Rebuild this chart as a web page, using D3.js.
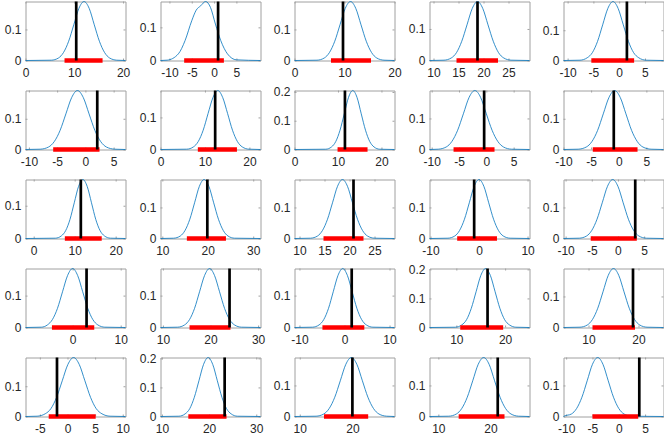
<!DOCTYPE html>
<html>
<head>
<meta charset="utf-8">
<script src="https://cdn.jsdelivr.net/npm/d3@7"></script>
<style>
body { margin: 0; background: #fff; }
svg { display: block; font-family: 'Liberation Sans', Arial, Helvetica, sans-serif; }
</style>
</head>
<body>
<div id="grid"></div>
<script>
'use strict';

// x limits of each panel (axis tight on the density curve)
var xMin = [0, -12, 0, 9.2, -10.8,
    -10.6, 0, 0, -10.4, -10,
    -2, 9.6, 9, -10.2, -10.4,
    -9.8, 9.5, -11.1, 4.5, 5,
    -7.6, 9.7, 9, 8.3, -10.5]
var xMax = [20.5, 10.4, 20, 29.2, 8.6,
    7.1, 22.5, 23, 7.9, 8.1,
    22.4, 31.6, 29, 10.4, 8.7,
    11, 30.5, 11.1, 25, 25,
    10.5, 30.9, 28, 27.5, 8.5]
// y limit = density peak
var yMax = [0.19, 0.178, 0.19, 0.187, 0.195,
    0.192, 0.184, 0.205, 0.19, 0.192,
    0.18, 0.19, 0.19, 0.19, 0.19,
    0.185, 0.185, 0.185, 0.203, 0.19,
    0.195, 0.203, 0.19, 0.19, 0.19]

var xTicks = [[0, 10, 20], [-10, -5, 0, 5], [0, 10, 20], [10, 15, 20, 25], [-10, -5, 0, 5],
    [-10, -5, 0, 5], [0, 10, 20], [0, 10, 20], [-10, -5, 0, 5], [-10, -5, 0, 5],
    [0, 10, 20], [10, 20, 30], [10, 15, 20, 25], [-10, 0, 10], [-10, -5, 0, 5],
    [0, 10], [10, 20, 30], [-10, 0, 10], [10, 20], [10, 20],
    [-5, 0, 5, 10], [10, 20, 30], [10, 20], [10, 20], [-10, -5, 0, 5]]
var yTicks = [0, 0.1, 0.2]

// observed value (black bar)
var observed = [10.4, 0.9, 9.7, 18.8, 1.5,
    2.1, 12.3, 11.6, -0.4, -0.9,
    11.5, 19.9, 20.8, -1, 3.3,
    2.9, 24, 1.6, 16.4, 18.9,
    -1.9, 23.3, 20, 21.4, 3.9]
// interval (red bar)
var intervalLow = [8.0, -6.7, 7.3, 14.6, -5.4,
    -5.7, 8.4, 9.9, -6.0, -4.7,
    7.6, 15.4, 14.8, -4.5, -5.2,
    -4.3, 15.6, -4.9, 10.8, 10.8,
    -3.4, 15.6, 14.6, 13.9, -5]
var intervalHigh = [15.8, 2.2, 15.3, 22.9, 2.9,
    2.5, 17.2, 16.8, 1.5, 3.4,
    16.6, 24, 22.8, 3.7, 3.6,
    4.5, 24.2, 4.4, 19.6, 19.3,
    5.1, 23.7, 23, 22.7, 3.7]

// density curves, [x, density]
var density = [
    [[0,0],[5.3,0.001],[6.75,0.008],[7.8,0.026],[8.85,0.062],[9.9,0.115],[10.95,0.168],[12,0.19],[13.05,0.168],[14.1,0.115],[15.15,0.062],[16.2,0.026],[17.25,0.008],[18.7,0.001],[20.5,0]],
    [[-12,0],[-10.5,0.001],[-8,0.02],[-6.5,0.06],[-5,0.12],[-4,0.152],[-3,0.165],[-1.9,0.178],[-0.8,0.16],[0.3,0.11],[1.5,0.06],[3,0.02],[5,0.002],[10.4,0]],
    [[0,0],[4.5,0.001],[5.95,0.008],[7.0,0.026],[8.05,0.062],[9.1,0.115],[10.15,0.168],[11.2,0.19],[12.25,0.168],[13.3,0.115],[14.35,0.062],[15.4,0.026],[16.45,0.008],[17.9,0.001],[20,0]],
    [[9.2,0],[12.1,0.001],[13.55,0.008],[14.6,0.025],[15.65,0.061],[16.7,0.113],[17.75,0.165],[18.8,0.187],[19.85,0.165],[20.9,0.113],[21.95,0.061],[23.0,0.025],[24.05,0.008],[25.5,0.001],[29.2,0]],
    [[-10.8,0],[-7.6,0.001],[-6.2,0.009],[-5.2,0.026],[-4.2,0.063],[-3.2,0.118],[-2.2,0.172],[-1.2,0.195],[-0.2,0.172],[0.8,0.118],[1.8,0.063],[2.8,0.026],[3.8,0.009],[5.2,0.001],[8.6,0]],

    [[-10.6,0],[-8.0,0.001],[-6.53,0.008],[-5.5,0.026],[-4.48,0.062],[-3.45,0.116],[-2.43,0.169],[-1.4,0.192],[-0.37,0.169],[0.65,0.116],[1.68,0.062],[2.7,0.026],[3.73,0.008],[5.2,0.001],[7.1,0]],
    [[0,0],[5.9,0.001],[7.4,0.008],[8.5,0.025],[9.6,0.06],[10.7,0.112],[11.8,0.162],[12.9,0.184],[14.0,0.162],[15.1,0.112],[16.2,0.06],[17.3,0.025],[18.4,0.008],[19.9,0.001],[22.5,0]],
    [[0,0],[7.2,0.001],[8.52,0.009],[9.5,0.028],[10.47,0.067],[11.45,0.124],[12.42,0.181],[13.4,0.205],[14.38,0.181],[15.35,0.124],[16.33,0.067],[17.3,0.028],[18.28,0.009],[19.6,0.001],[23,0]],
    [[-10.4,0],[-8.8,0.001],[-7.35,0.008],[-6.3,0.026],[-5.25,0.062],[-4.2,0.115],[-3.15,0.168],[-2.1,0.19],[-1.05,0.168],[0,0.115],[1.05,0.062],[2.1,0.026],[3.15,0.008],[4.6,0.001],[7.9,0]],
    [[-10,0],[-7.35,0.001],[-5.88,0.008],[-4.85,0.026],[-3.83,0.062],[-2.8,0.116],[-1.78,0.169],[-0.75,0.192],[0.28,0.169],[1.3,0.116],[2.33,0.062],[3.35,0.026],[4.38,0.008],[5.85,0.001],[8.1,0]],

    [[-2,0],[5.3,0.001],[6.75,0.008],[7.8,0.024],[8.85,0.058],[9.9,0.109],[10.95,0.159],[12,0.18],[13.05,0.159],[14.1,0.109],[15.15,0.058],[16.2,0.024],[17.25,0.008],[18.7,0.001],[22.4,0]],
    [[9.6,0],[12.5,0.001],[13.95,0.008],[15.0,0.026],[16.05,0.062],[17.1,0.115],[18.15,0.168],[19.2,0.19],[20.25,0.168],[21.3,0.115],[22.35,0.062],[23.4,0.026],[24.45,0.008],[25.9,0.001],[31.6,0]],
    [[9,0],[12.2,0.001],[13.6,0.008],[14.6,0.026],[15.6,0.062],[16.6,0.115],[17.6,0.168],[18.6,0.19],[19.6,0.168],[20.6,0.115],[21.6,0.062],[22.6,0.026],[23.6,0.008],[25.0,0.001],[29,0]],
    [[-10.2,0],[-6.4,0.001],[-5,0.008],[-4,0.026],[-3,0.062],[-2,0.115],[-1,0.168],[0,0.19],[1,0.168],[2,0.115],[3,0.062],[4,0.026],[5,0.008],[6.4,0.001],[10.4,0]],
    [[-10.4,0],[-7.4,0.001],[-6,0.008],[-5,0.026],[-4,0.062],[-3,0.115],[-2,0.168],[-1,0.19],[0,0.168],[1,0.115],[2,0.062],[3,0.026],[4,0.008],[5.4,0.001],[8.7,0]],

    [[-9.8,0],[-6.5,0.001],[-5.25,0.008],[-4.2,0.025],[-3.15,0.06],[-2.1,0.112],[-1.05,0.163],[0,0.185],[1.05,0.163],[2.1,0.112],[3.15,0.06],[4.2,0.025],[5.25,0.008],[6.7,0.001],[11,0]],
    [[9.5,0],[13.1,0.001],[14.55,0.008],[15.6,0.025],[16.65,0.06],[17.7,0.112],[18.75,0.163],[19.8,0.185],[20.85,0.163],[21.9,0.112],[22.95,0.06],[24.0,0.025],[25.05,0.008],[26.5,0.001],[30.5,0]],
    [[-11.1,0],[-7.1,0.001],[-5.65,0.008],[-4.6,0.025],[-3.55,0.06],[-2.5,0.112],[-1.45,0.163],[-0.4,0.185],[0.65,0.163],[1.7,0.112],[2.75,0.06],[3.8,0.025],[4.85,0.008],[6.3,0.001],[11.1,0]],
    [[4.5,0],[9.8,0.001],[11.12,0.009],[12.1,0.027],[13.07,0.066],[14.05,0.123],[15.02,0.179],[16,0.203],[16.98,0.179],[17.95,0.123],[18.93,0.066],[19.9,0.027],[20.88,0.009],[22.2,0.001],[25,0]],
    [[5,0],[8.3,0.001],[9.75,0.008],[10.8,0.026],[11.85,0.062],[12.9,0.115],[13.95,0.168],[15,0.19],[16.05,0.168],[17.1,0.115],[18.15,0.062],[19.2,0.026],[20.25,0.008],[21.7,0.001],[25,0]],

    [[-7.6,0],[-5.5,0.001],[-4.03,0.009],[-3.0,0.026],[-1.98,0.063],[-0.95,0.118],[0.07,0.172],[1.1,0.195],[2.13,0.172],[3.15,0.118],[4.18,0.063],[5.2,0.026],[6.23,0.009],[7.7,0.001],[10.5,0]],
    [[9.7,0],[13.6,0.001],[14.92,0.009],[15.9,0.027],[16.87,0.066],[17.85,0.123],[18.82,0.179],[19.8,0.203],[20.78,0.179],[21.75,0.123],[22.73,0.066],[23.7,0.027],[24.68,0.009],[26.0,0.001],[30.9,0]],
    [[9,0],[13.1,0.001],[14.55,0.008],[15.6,0.026],[16.65,0.062],[17.7,0.115],[18.75,0.168],[19.8,0.19],[20.85,0.168],[21.9,0.115],[22.95,0.062],[24.0,0.026],[25.05,0.008],[26.5,0.001],[28,0]],
    [[8.3,0],[12,0.001],[13.45,0.008],[14.5,0.026],[15.55,0.062],[16.6,0.115],[17.65,0.168],[18.7,0.19],[19.75,0.168],[20.8,0.115],[21.85,0.062],[22.9,0.026],[23.95,0.008],[25.4,0.001],[27.5,0]],
    [[-10.5,0],[-10.4,0.001],[-9,0.008],[-8,0.026],[-7,0.062],[-6,0.115],[-5,0.168],[-4,0.19],[-3,0.168],[-2,0.115],[-1,0.062],[0,0.026],[1,0.008],[2.4,0.001],[8.5,0]]
]

var width = 664
var height = 436
var cell = { left: 25, top: 0.7, stepX: 134.6, stepY: 89.15, w: 99.6, h: 59.4 }
var boxColor = '#a0a0a0'
var textColor = '#262626'

var svg = d3.select('#grid').append('svg')
    .attr('width', width)
    .attr('height', height)

function styleAxis(sel) {
    sel.attr('font-size', 12).attr('font-family', null)
    sel.select('.domain').attr('stroke', boxColor)
    sel.selectAll('.tick line').attr('stroke', boxColor)
    sel.selectAll('.tick text').attr('fill', textColor)
}

function drawPanel(i) {
    var col = i % 5
    var row = Math.floor(i / 5)
    var x0 = Math.round(cell.left + col * cell.stepX) + 0.5
    var y0 = Math.round(cell.top + row * cell.stepY) + 0.5
    var x1 = x0 + Math.round(cell.w)
    var y1 = y0 + Math.round(cell.h)

    var x = d3.scaleLinear().domain([xMin[i], xMax[i]]).range([x0, x1])
    var y = d3.scaleLinear().domain([0, yMax[i]]).range([y1, y0])
    var yt = yTicks.filter(function(v) { return v <= yMax[i] })

    var g = svg.append('g').attr('class', 'panel')

    g.append('g')
        .attr('transform', 'translate(0,' + y1 + ')')
        .call(d3.axisBottom(x).tickValues(xTicks[i]).tickSizeInner(-2).tickSizeOuter(0).tickPadding(8)
            .tickFormat(function(d) { return String(d) }))
        .call(styleAxis)
    g.append('g')
        .attr('transform', 'translate(0,' + y0 + ')')
        .call(d3.axisTop(x).tickValues(xTicks[i]).tickSizeInner(-2).tickSizeOuter(0).tickFormat(''))
        .call(styleAxis)
    g.append('g')
        .attr('transform', 'translate(' + x0 + ',0)')
        .call(d3.axisLeft(y).tickValues(yt).tickSizeInner(-2).tickSizeOuter(0).tickPadding(4)
            .tickFormat(function(d) { return d === 0 ? '0' : d3.format('.1f')(d) }))
        .call(styleAxis)
    g.append('g')
        .attr('transform', 'translate(' + x1 + ',0)')
        .call(d3.axisRight(y).tickValues(yt).tickSizeInner(-2).tickSizeOuter(0).tickFormat(''))
        .call(styleAxis)

    var line = d3.line()
        .x(function(d) { return x(d[0]) })
        .y(function(d) { return y(d[1]) })
        .curve(d3.curveMonotoneX)

    g.append('path')
        .datum(density[i])
        .attr('d', line)
        .attr('fill', 'none')
        .attr('stroke', '#0072bd')
        .attr('stroke-width', 0.8)

    g.append('line')
        .attr('x1', x(intervalLow[i])).attr('x2', x(intervalHigh[i]))
        .attr('y1', y(0)).attr('y2', y(0))
        .attr('stroke', '#ff0000')
        .attr('stroke-width', 4.5)

    g.append('line')
        .attr('x1', x(observed[i])).attr('x2', x(observed[i]))
        .attr('y1', y(0)).attr('y2', y(yMax[i]))
        .attr('stroke', '#000')
        .attr('stroke-width', 2.7)
}

for (var i = 0; i < density.length; i++) {
    drawPanel(i)
}
</script>
</body>
</html>
